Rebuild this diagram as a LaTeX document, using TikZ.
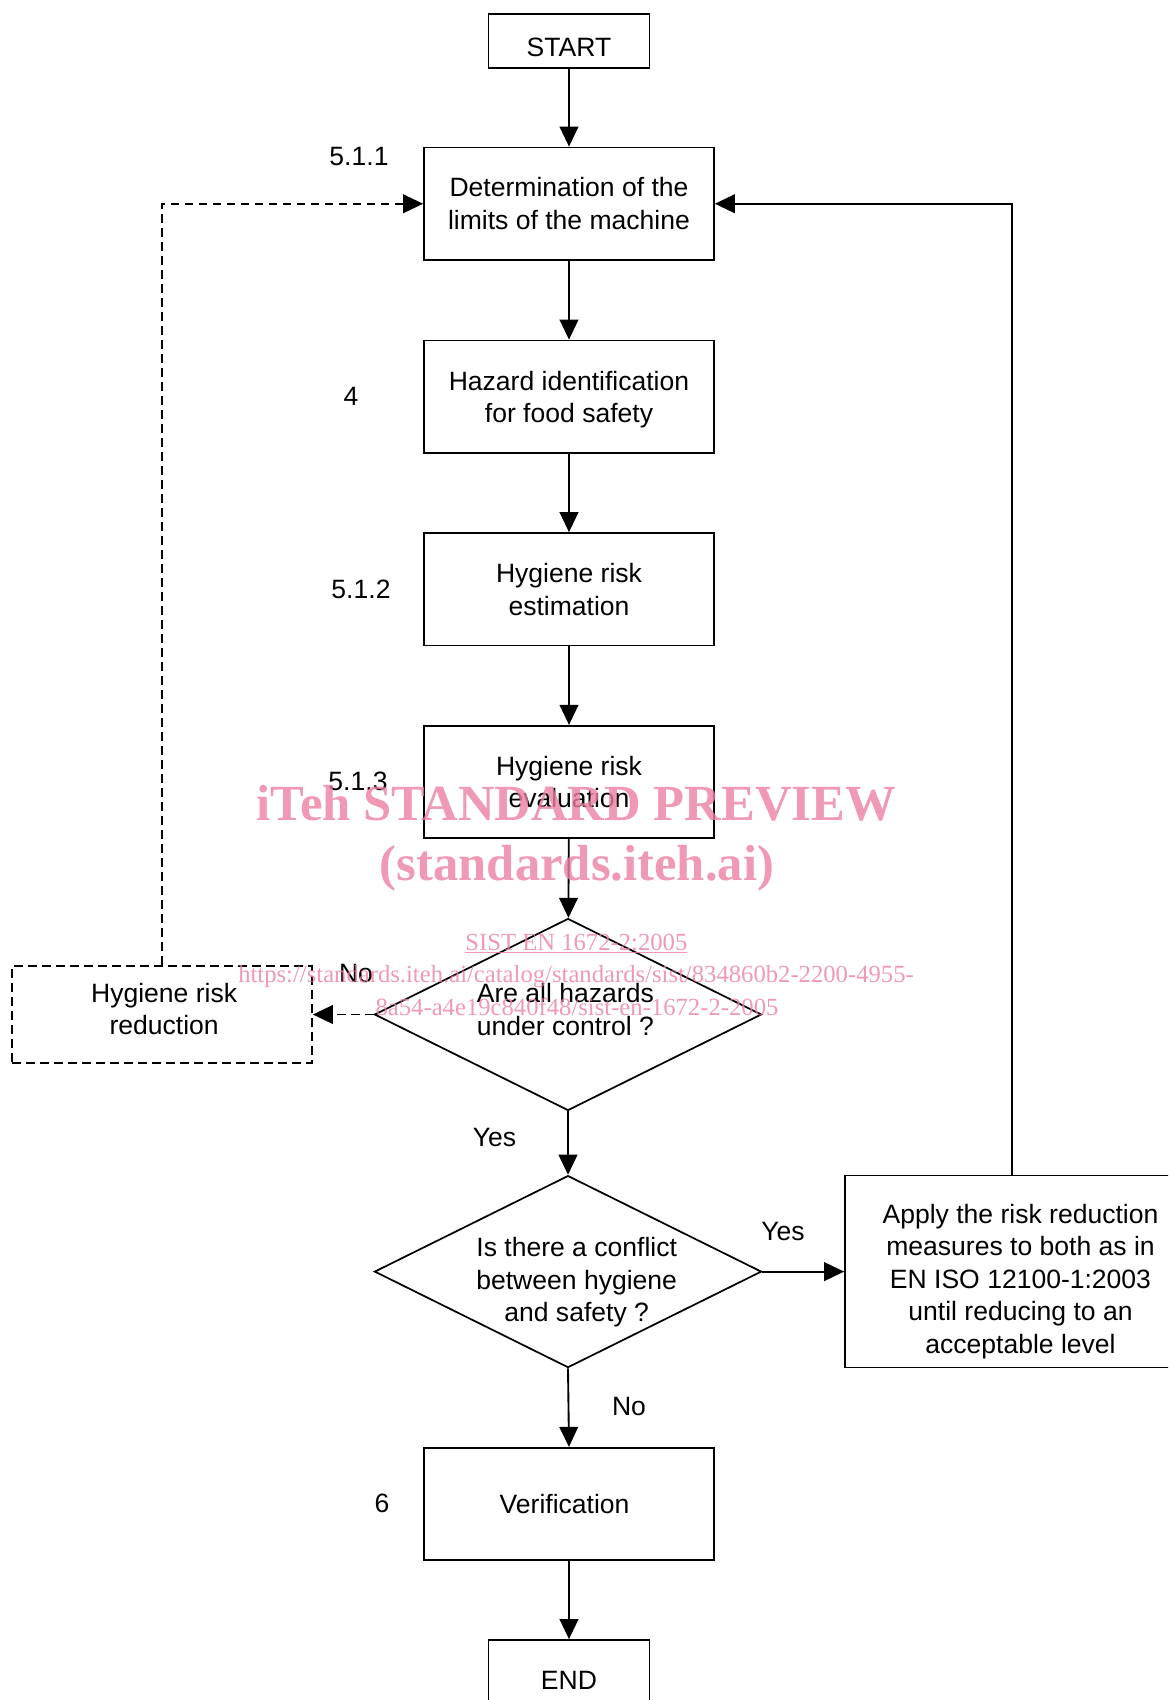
\documentclass[tikz,border=0pt]{standalone}
\usepackage{fontspec}
\setmainfont{Liberation Sans}
\newfontfamily\wmfont{Liberation Serif}
\usetikzlibrary{shapes.geometric,arrows.meta}
\definecolor{wmpink}{RGB}{236,128,162}
\begin{document}
\begin{tikzpicture}[x=0.75pt,y=-0.75pt,
  every node/.style={font=\fontsize{19.9}{24.4}\selectfont},
  line/.style={line width=1.4pt},
  arr/.style={line, -{Triangle[length=15pt,width=14pt]}},
  dasharr/.style={arr, dash pattern=on 6.5pt off 4pt},
  boxnode/.style={draw,line width=1.3pt,rectangle,minimum width=217.5pt,minimum height=84.4pt,align=center,inner sep=0pt},
  termnode/.style={draw,line width=1.3pt,rectangle,minimum width=120.75pt,align=center,inner sep=0pt},
  decnode/.style={draw,line width=1.3pt,diamond,aspect=2,minimum width=290.25pt,minimum height=144pt,align=center,inner sep=0pt},
  inner/.style={align=center,inner sep=0pt},
  refnum/.style={inner sep=0pt},
  wm/.style={text=wmpink, opacity=0.8, inner sep=0pt},
  wmbig/.style={wm, font=\wmfont\bfseries\fontsize{38}{40}\selectfont},
  wmsmall/.style={wm, font=\wmfont\fontsize{18.5}{20}\selectfont}
]
\useasboundingbox (0,0) rectangle (1168,1700);
\clip (0,0) rectangle (1168,1700);

% nodes
\node[termnode, minimum height=40.5pt, text height=22.7pt, text depth=0pt] (start) at (569,41) {START};
\node[boxnode] (b1) at (569,203.75) {Determination of the\\limits of the machine};
\node[boxnode, label={[inner, yshift=-2pt]center:Hazard identification\\for food safety}] (b2) at (569,396.75) {};
\node[boxnode] (b3) at (569,589.25) {Hygiene risk\\estimation};
\node[boxnode] (b4) at (569,782) {Hygiene risk\\evaluation};
\node[decnode, label={[inner, xshift=-2pt, yshift=3.7pt]center:Are all hazards\\under control ?}] (d1) at (568,1014.5) {};
\node[boxnode, dashed, dash pattern=on 6.5pt off 4pt, minimum width=225pt, minimum height=72.75pt,
  label={[inner, xshift=1.6pt, yshift=4pt]center:Hygiene risk\\reduction}] (hrr) at (162,1014.5) {};
\node[decnode, label={[inner, xshift=6.5pt, yshift=-8.1pt]center:Is there a conflict\\between hygiene\\and safety ?}] (d2) at (568,1271.6) {};
\node[boxnode, minimum width=263.25pt, minimum height=144pt,
  label={[inner, yshift=-7.3pt]center:Apply the risk reduction\\measures to both as in\\EN ISO 12100-1:2003\\until reducing to an\\acceptable level}] (apply) at (1020.5,1271.6) {};
\node[boxnode, label={[inner, xshift=-3.3pt]center:Verification}] (ver) at (569,1504) {};
\node[termnode, minimum height=60pt] (end) at (569,1680) {END};

% reference numbers
\node[refnum] (r1) at (359,156) {5.1.1};
\node[refnum] (r2) at (351,396) {4};
\node[refnum] (r3) at (361,589) {5.1.2};
\node[refnum] (r4) at (358,781) {5.1.3};
\node[refnum] (r5) at (382,1503) {6};

% connectors
\draw[arr] (start) -- (b1);
\draw[arr] (b1) -- (b2);
\draw[arr] (b2) -- (b3);
\draw[arr] (b3) -- (b4);
\draw[arr] (b4) -- (d1);
\draw[dasharr] (d1.west) -- (hrr.east);
\draw[dasharr] (hrr.north) |- (b1.west);
\draw[arr] (d1.south) -- (d2.north);
\draw[arr] (d2.east) -- (apply.west);
\draw[arr] ([xshift=-6.4pt]apply.north) |- (b1.east);
\draw[arr] (d2.south) -- (ver.north);
\draw[arr] (ver) -- (end);

% connector labels
\node[refnum] (lno1) at (356,973) {No};
\node[refnum] (lyes1) at (494.5,1137.6) {Yes};
\node[refnum] (lyes2) at (783,1231) {Yes};
\node[refnum] (lno2) at (629,1406.6) {No};

% watermark
\node[wmbig] (wm1) at (576.4,803.6) {iTeh STANDARD PREVIEW};
\node[wmbig] (wm2) at (577,868) {(standards.iteh.ai)};
\node[wmsmall] (wm3) at (576.4,943.5) {\underline{SIST EN 1672-2:2005}};
\node[wmsmall] (wm4) at (576,977) {https://standards.iteh.ai/catalog/standards/sist/834860b2-2200-4955-};
\node[wmsmall] (wm5) at (577,1007) {8a54-a4e19c840f48/sist-en-1672-2-2005};
\end{tikzpicture}
\end{document}
